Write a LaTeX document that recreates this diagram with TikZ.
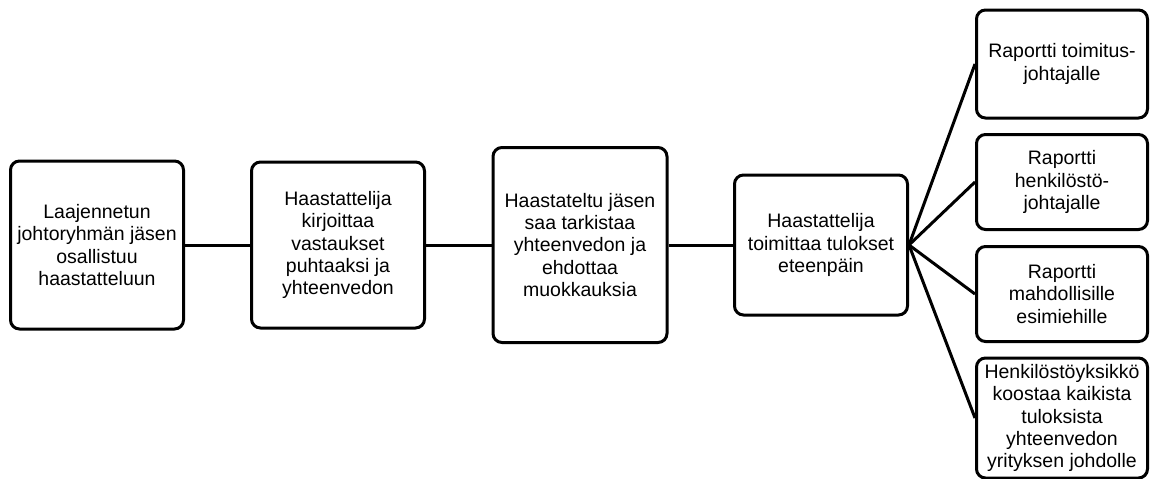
\documentclass[tikz,border=0pt]{standalone}
\usepackage{fontspec}
\setmainfont{Liberation Sans}
\usepackage{tikz}
\usetikzlibrary{positioning}

\tikzset{
	vaihe/.style={draw, line width=3pt, rounded corners=9pt, align=center, inner sep=0pt,
		font=\fontsize{19.5}{22.2}\selectfont},
	yhteys/.style={line width=3pt}
}

\begin{document}
\begin{tikzpicture}[x=1pt, y=-1pt]
	\useasboundingbox (0,0) rectangle (1152,479);
	% main row
	\node [vaihe, minimum width=173pt, minimum height=168pt] (osallistuu) at (97, 245) {Laajennetun\\johtoryhmän jäsen\\osallistuu\\haastatteluun};
	\node [vaihe, minimum width=173pt, minimum height=166pt] (kirjoittaa) at (338, 245) {Haastattelija\\kirjoittaa\\vastaukset\\puhtaaksi ja\\yhteenvedon};
	\node [vaihe, minimum width=174pt, minimum height=195pt] (tarkistaa) at (580, 245) {Haastateltu jäsen\\saa tarkistaa\\yhteenvedon ja\\ehdottaa\\muokkauksia};
	\node [vaihe, minimum width=173pt, minimum height=140pt] (toimittaa) at (821, 245) {Haastattelija\\toimittaa tulokset\\eteenpäin};
	% reports
	\node [vaihe, minimum width=171pt, minimum height=108pt] (toimitusjohtaja) at (1062, 64) {Raportti toimitus-\\johtajalle};
	\node [vaihe, minimum width=171pt, minimum height=95pt] (henkilostojohtaja) at (1062, 182) {Raportti\\henkilöstö-\\johtajalle};
	\node [vaihe, minimum width=171pt, minimum height=95pt] (esimiehet) at (1062, 294) {Raportti\\mahdollisille\\esimiehille};
	\node [vaihe, minimum width=171pt, minimum height=120pt] (henkilostoyksikko) at (1062, 418) {Henkilöstöyksikkö\\koostaa kaikista\\tuloksista\\yhteenvedon\\yrityksen johdolle};

	\draw [yhteys] (osallistuu) -- (kirjoittaa);
	\draw [yhteys] (kirjoittaa) -- (tarkistaa);
	\draw [yhteys] (tarkistaa) -- (toimittaa);
	\draw [yhteys] (toimittaa.east) -- (toimitusjohtaja.west);
	\draw [yhteys] (toimittaa.east) -- (henkilostojohtaja.west);
	\draw [yhteys] (toimittaa.east) -- (esimiehet.west);
	\draw [yhteys] (toimittaa.east) -- (henkilostoyksikko.west);
\end{tikzpicture}
\end{document}
